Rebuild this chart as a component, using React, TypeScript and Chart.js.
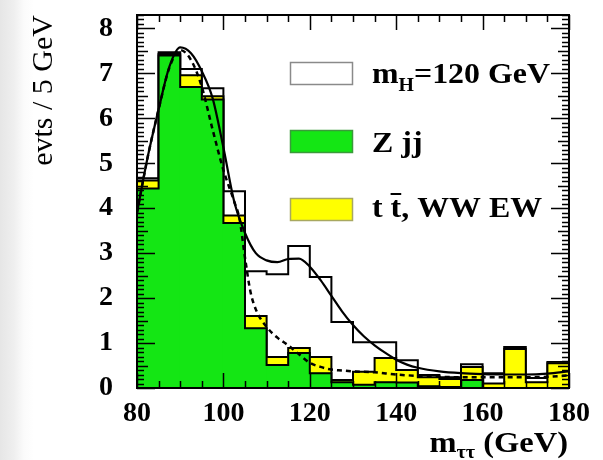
import React, { useEffect, useRef } from 'react';
import { Chart, registerables } from 'chart.js';

Chart.register(...registerables);

// ---- data ----
const binEdges = [80, 85, 90, 95, 100, 105, 110, 115, 120, 125, 130, 135, 140, 145, 150, 155, 160, 165, 170, 175, 180];
const binCenters = [82.5, 87.5, 92.5, 97.5, 102.5, 107.5, 112.5, 117.5, 122.5, 127.5, 132.5, 137.5, 142.5, 147.5, 152.5, 157.5, 162.5, 167.5, 172.5, 177.5];
const zjj = [4.44, 7.40, 6.70, 6.42, 3.67, 1.33, 0.51, 0.78, 0.33, 0.13, 0.07, 0.13, 0.12, 0.04, 0.02, 0.18, 0.00, 0.00, 0.00, 0.00];
const ttww = [0.18, 0.03, 0.26, 0.07, 0.17, 0.27, 0.18, 0.11, 0.36, 0.05, 0.29, 0.54, 0.28, 0.20, 0.18, 0.29, 0.10, 0.87, 0.13, 0.55];
const higgs = [0.05, 0.04, 0.14, 0.18, 0.54, 1.00, 1.84, 2.27, 1.78, 1.29, 0.66, 0.35, 0.22, 0.05, 0.04, 0.06, 0.23, 0.04, 0.09, 0.03];

const curveMass = [80, 82.5, 85, 87.5, 90, 92.5, 95, 97.5, 100, 102.5, 105, 107.5, 110, 112.5, 115, 117.5, 120, 122.5, 125, 127.5, 130, 132.5, 135, 137.5, 140, 142.5, 145, 150, 155, 160, 165, 170, 175, 180];
const totalFit = [3.9, 5.15, 6.2, 7.15, 7.58, 7.45, 7.05, 6.45, 5.35, 4.15, 3.45, 3.0, 2.84, 2.8, 2.87, 2.88, 2.7, 2.4, 2.05, 1.7, 1.4, 1.15, 0.95, 0.78, 0.63, 0.52, 0.45, 0.37, 0.33, 0.31, 0.3, 0.3, 0.32, 0.37];
const bkgMass = [80, 82.5, 85, 87.5, 90, 92.5, 95, 97.5, 100, 102.5, 103.75, 105, 106.25, 107.5, 110, 112.5, 115, 117.5, 120, 122.5, 125, 127.5, 130, 135, 140, 145, 150, 155, 160, 165, 170, 175, 180];
const bkgFit = [3.9, 5.15, 6.2, 7.13, 7.52, 7.3, 6.7, 5.75, 4.85, 4.15, 3.75, 2.9, 2.15, 1.75, 1.36, 1.12, 0.95, 0.75, 0.56, 0.47, 0.41, 0.39, 0.37, 0.35, 0.3, 0.27, 0.25, 0.24, 0.24, 0.24, 0.24, 0.25, 0.28];

const xTickLabels = [80, 100, 120, 140, 160, 180];
const yTickLabels = [0, 1, 2, 3, 4, 5, 6, 7, 8];

const GREEN = '#14e614';
const YELLOW = '#ffff00';
const SERIF = "'Liberation Serif', 'Times New Roman', serif";

type Run = { text: string; size: number; dy?: number; weight?: string };

function runsWidth(ctx: CanvasRenderingContext2D, runs: Run[]) {
  let w = 0;
  for (const r of runs) {
    ctx.font = `${r.weight ?? 'bold'} ${r.size}px ${SERIF}`;
    w += ctx.measureText(r.text).width;
  }
  return w;
}

function drawRuns(ctx: CanvasRenderingContext2D, runs: Run[], x: number, baseline: number, sx: number) {
  ctx.save();
  ctx.translate(x, baseline);
  ctx.scale(sx, 1);
  ctx.textAlign = 'left';
  ctx.textBaseline = 'alphabetic';
  ctx.fillStyle = '#000';
  let cx = 0;
  const pos: number[] = [];
  for (const r of runs) {
    ctx.font = `${r.weight ?? 'bold'} ${r.size}px ${SERIF}`;
    pos.push(cx);
    ctx.fillText(r.text, cx, r.dy ?? 0);
    cx += ctx.measureText(r.text).width;
  }
  ctx.restore();
  return pos;
}

const rootStyle = {
  id: 'rootStyle',
  afterDatasetsDraw(chart: any) {
    const { ctx, chartArea: a, scales } = chart;
    const xs = scales.x;
    const ys = scales.y;
    ctx.save();
    ctx.strokeStyle = '#000';
    // ticks on all four sides, pointing inward
    ctx.lineWidth = 1.5;
    ctx.beginPath();
    for (let i = 0; i <= 20; i++) {
      const v = 80 + 5 * i;
      const px = Math.round(xs.getPixelForValue(v)) + 0.5;
      const len = v % 20 === 0 ? 15 : 7;
      ctx.moveTo(px, a.bottom);
      ctx.lineTo(px, a.bottom - len);
      ctx.moveTo(px, a.top);
      ctx.lineTo(px, a.top + len);
    }
    for (let i = 0; i <= 83; i++) {
      const py = Math.round(ys.getPixelForValue(i / 10)) + 0.5;
      const len = i % 10 === 0 ? 18 : i % 5 === 0 ? 11 : 7;
      ctx.moveTo(a.left, py);
      ctx.lineTo(a.left + len, py);
      ctx.moveTo(a.right, py);
      ctx.lineTo(a.right - len, py);
    }
    ctx.stroke();
    // frame
    ctx.lineWidth = 2;
    ctx.strokeRect(a.left, a.top, a.right - a.left, a.bottom - a.top);

    // legend
    const sx = 1.1;
    const boxL = a.left + 153;
    const boxW = 63;
    const boxH = 23;
    const textX = a.left + 235;
    const entries = [
      { top: a.top + 47, fill: '#ffffff', stroke: '#8a8a8a', base: a.top + 68,
        runs: [{ text: 'm', size: 29 }, { text: 'H', size: 18, dy: 8 }, { text: '=120 GeV', size: 29 }] as Run[] },
      { top: a.top + 115, fill: GREEN, stroke: '#3a9a3a', base: a.top + 137,
        runs: [{ text: 'Z jj', size: 29 }] as Run[] },
      { top: a.top + 183, fill: YELLOW, stroke: '#a8a860', base: a.top + 202,
        runs: [{ text: 't ', size: 29 }, { text: 't', size: 29 }, { text: ', WW EW', size: 29 }] as Run[] },
    ];
    for (const e of entries) {
      ctx.fillStyle = e.fill;
      ctx.fillRect(boxL, e.top, boxW, boxH);
      ctx.lineWidth = 1.5;
      ctx.strokeStyle = e.stroke;
      ctx.strokeRect(boxL + 0.5, e.top + 0.5, boxW - 1, boxH - 1);
      const pos = drawRuns(ctx, e.runs, textX, e.base, sx);
      if (e.runs[1] && e.runs[1].text === 't') {
        ctx.font = `bold 29px ${SERIF}`;
        const tw = ctx.measureText('t').width;
        ctx.strokeStyle = '#000';
        ctx.lineWidth = 2;
        ctx.beginPath();
        ctx.moveTo(textX + pos[1] * sx, e.base - 23);
        ctx.lineTo(textX + (pos[1] + tw) * sx, e.base - 23);
        ctx.stroke();
      }
    }

    // x axis title
    const xt: Run[] = [{ text: 'm', size: 29 }, { text: 'ττ', size: 18, dy: 6 }, { text: ' (GeV)', size: 29 }];
    const w = runsWidth(ctx, xt) * 1.12;
    drawRuns(ctx, xt, a.right - 1 - w, 452, 1.12);

    // y axis title
    ctx.save();
    ctx.translate(52, a.top);
    ctx.rotate(-Math.PI / 2);
    ctx.font = `normal 30px ${SERIF}`;
    ctx.fillStyle = '#000';
    ctx.textAlign = 'right';
    ctx.textBaseline = 'alphabetic';
    ctx.fillText('evts / 5 GeV', 0, 0);
    ctx.restore();

    ctx.restore();
  },
};

export default function App() {
  const ref = useRef<HTMLCanvasElement>(null);
  useEffect(() => {
    const canvas = ref.current;
    if (!canvas) return;
    const zCum = zjj.slice();
    const bgCum = zjj.map((v, i) => v + ttww[i]);
    const totCum = bgCum.map((v, i) => v + higgs[i]);
    const step = (vals: number[]) => binEdges.map((e, i) => ({ x: e, y: vals[Math.min(i, vals.length - 1)] }));
    const bars = (vals: number[]) => binCenters.map((c, i) => ({ x: c, y: vals[i] }));
    const stepLine = (vals: number[], order: number) => ({
      type: 'line' as const,
      data: step(vals),
      stepped: true,
      borderColor: '#000',
      borderWidth: 2,
      pointRadius: 0,
      fill: false,
      order,
    });
    const barSet = (label: string, vals: number[], color: string, order: number) => ({
      type: 'bar' as const,
      label,
      data: bars(vals),
      backgroundColor: color,
      borderWidth: 0,
      grouped: false,
      barPercentage: 1,
      categoryPercentage: 1,
      inflateAmount: 0.5,
      order,
    });
    const chart = new Chart(canvas, {
      type: 'bar',
      data: {
        datasets: [
          {
            type: 'line',
            label: 'signal + background fit',
            data: curveMass.map((m, i) => ({ x: m, y: totalFit[i] })),
            borderColor: '#000',
            borderWidth: 2.2,
            pointRadius: 0,
            tension: 0.4,
            cubicInterpolationMode: 'monotone',
            fill: false,
            order: 0,
          },
          {
            type: 'line',
            label: 'background fit',
            data: bkgMass.map((m, i) => ({ x: m, y: bkgFit[i] })),
            borderColor: '#000',
            borderWidth: 2.5,
            borderDash: [5, 4],
            pointRadius: 0,
            tension: 0.4,
            cubicInterpolationMode: 'monotone',
            fill: false,
            order: 0.5,
          },
          stepLine(zCum, 1),
          barSet('Z jj', zCum, GREEN, 2),
          stepLine(bgCum, 3),
          barSet('t t, WW EW', bgCum, YELLOW, 4),
          stepLine(totCum, 5),
          barSet('mH=120 GeV', totCum, '#ffffff', 6),
        ] as any,
      },
      options: {
        responsive: false,
        maintainAspectRatio: false,
        animation: false,
        layout: { padding: { left: 0, right: 34, top: 15, bottom: 0 } },
        plugins: { legend: { display: false }, tooltip: { enabled: false } },
        scales: {
          x: {
            type: 'linear',
            min: 80,
            max: 180,
            offset: false,
            grid: { display: false, drawTicks: false, offset: false },
            border: { display: false },
            afterBuildTicks: (s: any) => {
              s.ticks = xTickLabels.map((v) => ({ value: v }));
            },
            afterFit: (s: any) => {
              s.height = 72;
              s.paddingLeft = 0;
              s.paddingRight = 0;
            },
            ticks: {
              padding: 9,
              maxRotation: 0,
              autoSkip: false,
              color: '#000',
              font: { family: SERIF, size: 28, weight: 'bold' },
            },
          },
          y: {
            type: 'linear',
            min: 0,
            max: 8.3,
            grid: { display: false, drawTicks: false },
            border: { display: false },
            afterBuildTicks: (s: any) => {
              s.ticks = yTickLabels.map((v) => ({ value: v }));
            },
            afterFit: (s: any) => {
              s.width = 137;
              s.paddingTop = 0;
              s.paddingBottom = 0;
            },
            ticks: {
              padding: 24,
              color: '#000',
              font: { family: SERIF, size: 28, weight: 'bold' },
            },
          },
        },
      },
      plugins: [rootStyle],
    } as any);
    return () => chart.destroy();
  }, []);
  return (
    <div
      style={{
        position: 'fixed',
        left: 0,
        top: 0,
        width: 603,
        height: 460,
        background: 'linear-gradient(to right, #e6e6e6 0px, #efefef 14px, #fbfbfb 24px, #ffffff 34px)',
      }}
    >
      <canvas ref={ref} width={603} height={460} style={{ display: 'block' }} />
    </div>
  );
}
